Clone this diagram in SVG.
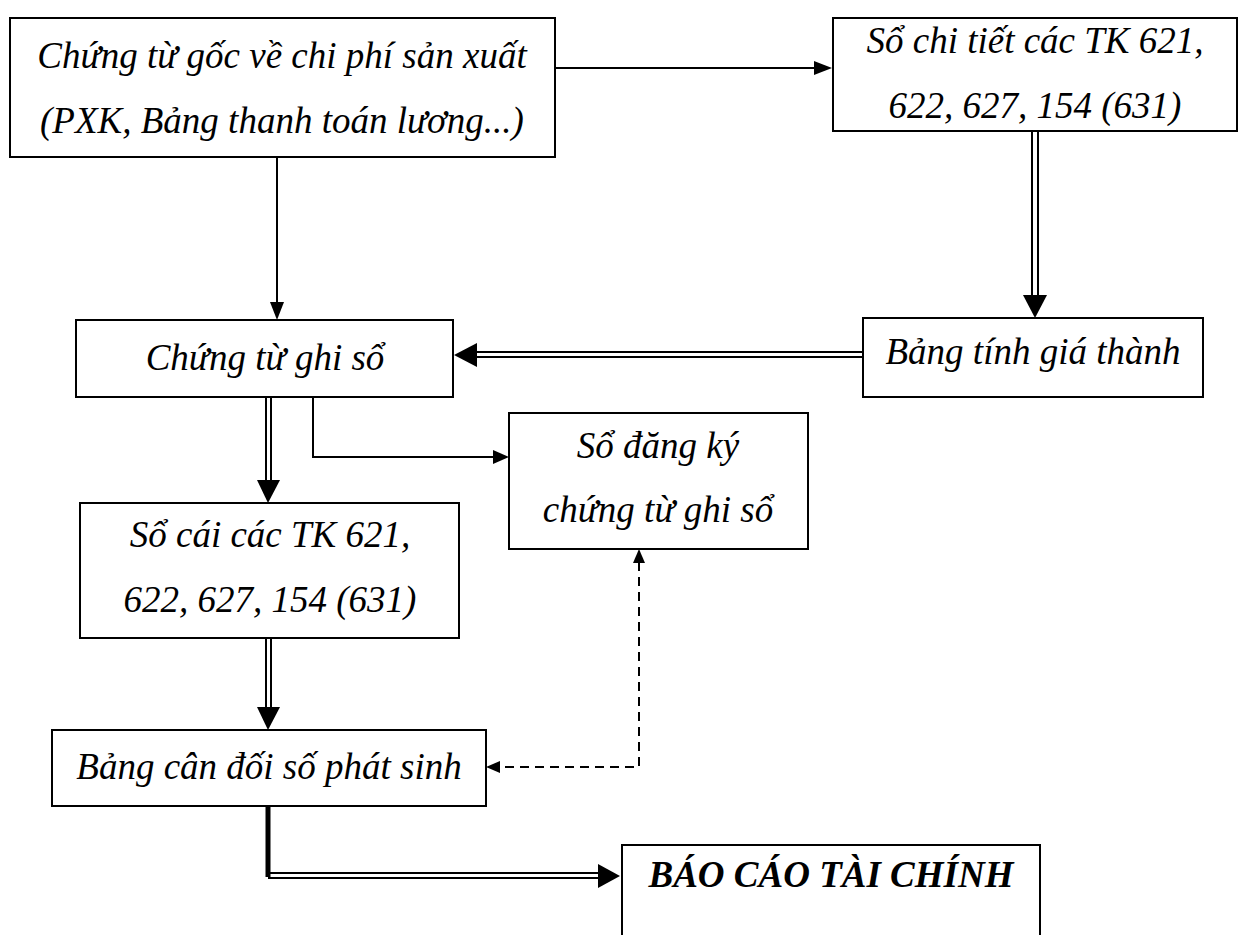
<svg xmlns="http://www.w3.org/2000/svg" width="1249" height="935" viewBox="0 0 1249 935">
<style>
.box{fill:#fff;stroke:#000;stroke-width:2}
.t{font-family:"Liberation Serif","Times New Roman",serif;font-style:italic;font-size:37px;fill:#000;text-anchor:middle}
.b{font-weight:bold}
.ln{fill:none;stroke:#000;stroke-width:2}
.dash{fill:none;stroke:#000;stroke-width:2;stroke-dasharray:9 6}
.thick{fill:none;stroke:#000;stroke-width:5}
.ah{fill:#000}
</style>
<rect width="1249" height="935" fill="#fff"/>
<g id="connectors">
  <line class="ln" x1="555" y1="68" x2="814" y2="68"/>
  <polygon class="ah" points="832,68 814,61 814,75"/>
  <line class="ln" x1="277" y1="157" x2="277" y2="302"/>
  <polygon class="ah" points="277,320 270,302 284,302"/>
  <line class="ln" x1="1032" y1="131" x2="1032" y2="297"/>
  <line class="ln" x1="1038" y1="131" x2="1038" y2="297"/>
  <polygon class="ah" points="1035,318 1023,295 1047,295"/>
  <line class="ln" x1="474" y1="352" x2="863" y2="352"/>
  <line class="ln" x1="474" y1="357" x2="863" y2="357"/>
  <polygon class="ah" points="454,355 477,343 477,367"/>
  <line class="ln" x1="266" y1="397" x2="266" y2="483"/>
  <line class="ln" x1="271" y1="397" x2="271" y2="483"/>
  <polygon class="ah" points="268,503 257,480 280,480"/>
  <polyline class="ln" points="313,397 313,457 493,457"/>
  <polygon class="ah" points="509,457 493,450 493,464"/>
  <line class="ln" x1="266" y1="638" x2="266" y2="710"/>
  <line class="ln" x1="271" y1="638" x2="271" y2="710"/>
  <polygon class="ah" points="268,730 257,707 280,707"/>
  <polyline class="dash" points="639,562 639,767 500,767"/>
  <polygon class="ah" points="639,549 633,563 645,563"/>
  <polygon class="ah" points="486,767 500,761 500,773"/>
  <line class="thick" x1="268" y1="806" x2="268" y2="877"/>
  <line class="ln" x1="268" y1="873" x2="600" y2="873"/>
  <line class="ln" x1="268" y1="878" x2="600" y2="878"/>
  <polygon class="ah" points="620,876 598,864 598,888"/>
</g>
<g id="n1">
  <rect class="box" x="10" y="18" width="545" height="139"/>
  <text class="t" x="282" y="68">Chứng từ gốc về chi phí sản xuất</text>
  <text class="t" x="282" y="133">(PXK, Bảng thanh toán lương...)</text>
</g>
<g id="n2">
  <rect class="box" x="833" y="18" width="404" height="113"/>
  <text class="t" x="1035" y="53">Sổ chi tiết các TK 621,</text>
  <text class="t" x="1035" y="118">622, 627, 154 (631)</text>
</g>
<g id="n3">
  <rect class="box" x="863" y="318" width="340" height="79"/>
  <text class="t" x="1033" y="364">Bảng tính giá thành</text>
</g>
<g id="n4">
  <rect class="box" x="76" y="320" width="377" height="77"/>
  <text class="t" x="265" y="370">Chứng từ ghi sổ</text>
</g>
<g id="n5">
  <rect class="box" x="80" y="503" width="379" height="135"/>
  <text class="t" x="270" y="547">Sổ cái các TK 621,</text>
  <text class="t" x="270" y="612">622, 627, 154 (631)</text>
</g>
<g id="n6">
  <rect class="box" x="509" y="413" width="299" height="136"/>
  <text class="t" x="658" y="458">Sổ đăng ký</text>
  <text class="t" x="658" y="522">chứng từ ghi sổ</text>
</g>
<g id="n7">
  <rect class="box" x="52" y="730" width="434" height="76"/>
  <text class="t" x="269" y="779">Bảng cân đối số phát sinh</text>
</g>
<g id="n8">
  <rect class="box" x="622" y="845" width="418" height="110"/>
  <text class="t b" x="831" y="887">BÁO CÁO TÀI CHÍNH</text>
</g>
</svg>
